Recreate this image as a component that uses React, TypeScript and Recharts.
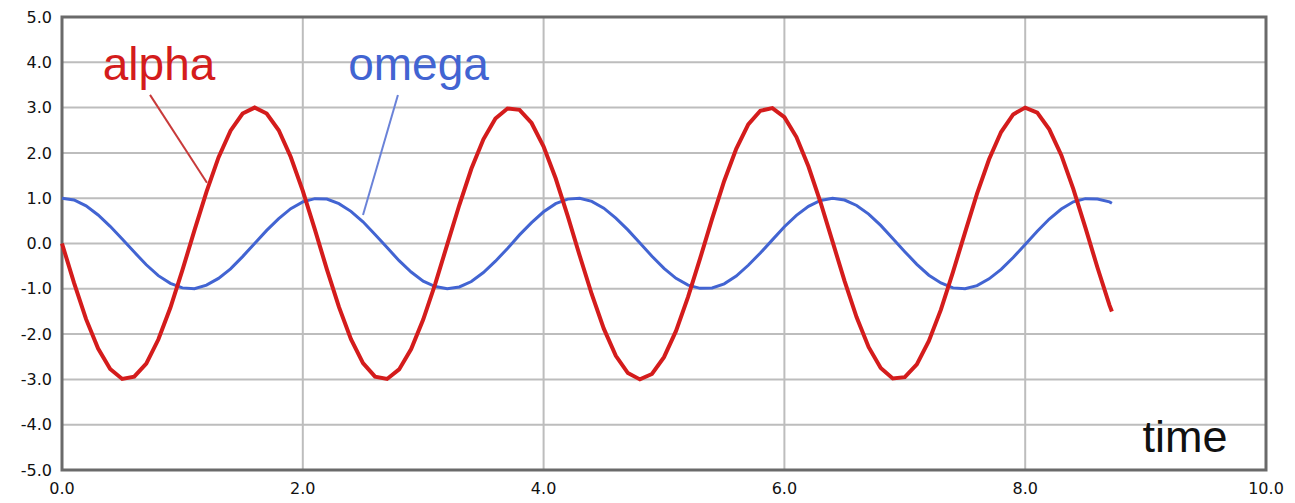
import React from "react";
import {
  LineChart,
  Line,
  XAxis,
  YAxis,
  CartesianGrid,
  ReferenceLine,
  ReferenceDot,
  ReferenceArea,
} from "recharts";

const times = [
  0.0, 0.1, 0.2, 0.3, 0.4, 0.5, 0.6, 0.7, 0.8, 0.9,
  1.0, 1.1, 1.2, 1.3, 1.4, 1.5, 1.6, 1.7, 1.8, 1.9,
  2.0, 2.1, 2.2, 2.3, 2.4, 2.5, 2.6, 2.7, 2.8, 2.9,
  3.0, 3.1, 3.2, 3.3, 3.4, 3.5, 3.6, 3.7, 3.8, 3.9,
  4.0, 4.1, 4.2, 4.3, 4.4, 4.5, 4.6, 4.7, 4.8, 4.9,
  5.0, 5.1, 5.2, 5.3, 5.4, 5.5, 5.6, 5.7, 5.8, 5.9,
  6.0, 6.1, 6.2, 6.3, 6.4, 6.5, 6.6, 6.7, 6.8, 6.9,
  7.0, 7.1, 7.2, 7.3, 7.4, 7.5, 7.6, 7.7, 7.8, 7.9,
  8.0, 8.1, 8.2, 8.3, 8.4, 8.5, 8.6, 8.7, 8.72,
];

const alphaValues = [
  0, -0.87, -1.67, -2.32, -2.77, -2.99, -2.94, -2.65, -2.12, -1.42,
  -0.59, 0.29, 1.14, 1.9, 2.49, 2.87, 3.0, 2.87, 2.5, 1.91,
  1.16, 0.31, -0.57, -1.4, -2.11, -2.64, -2.94, -2.99, -2.78, -2.33,
  -1.68, -0.89, -0.02, 0.85, 1.65, 2.3, 2.76, 2.98, 2.95, 2.66,
  2.14, 1.44, 0.61, -0.27, -1.12, -1.88, -2.48, -2.86, -3.0, -2.88,
  -2.51, -1.93, -1.18, -0.33, 0.55, 1.38, 2.09, 2.63, 2.93, 2.99,
  2.79, 2.35, 1.7, 0.91, 0.04, -0.83, -1.63, -2.29, -2.75, -2.98,
  -2.95, -2.67, -2.15, -1.46, -0.63, 0.24, 1.1, 1.86, 2.46, 2.85,
  3.0, 2.89, 2.52, 1.95, 1.2, 0.35, -0.53, -1.36, -1.5,
];

const omegaValues = [
  1.0, 0.96, 0.83, 0.63, 0.38, 0.1, -0.19, -0.47, -0.71, -0.88,
  -0.98, -1.0, -0.92, -0.77, -0.56, -0.29, 0.0, 0.29, 0.55, 0.77,
  0.92, 0.99, 0.98, 0.88, 0.71, 0.48, 0.2, -0.09, -0.38, -0.63,
  -0.83, -0.95, -1.0, -0.96, -0.84, -0.64, -0.39, -0.11, 0.19, 0.46,
  0.7, 0.88, 0.98, 1.0, 0.93, 0.78, 0.56, 0.3, 0.01, -0.28,
  -0.55, -0.77, -0.92, -0.99, -0.98, -0.89, -0.72, -0.48, -0.21, 0.08,
  0.37, 0.62, 0.82, 0.95, 1.0, 0.96, 0.84, 0.65, 0.4, 0.11,
  -0.18, -0.46, -0.7, -0.87, -0.98, -1.0, -0.93, -0.78, -0.57, -0.31,
  -0.02, 0.27, 0.54, 0.76, 0.92, 0.99, 0.98, 0.92, 0.89,
];

const xTicks = [0, 2, 4, 6, 8, 10];
const yTicks = [-5, -4, -3, -2, -1, 0, 1, 2, 3, 4, 5];

const data = times.map((t, i) => ({
  t,
  alpha: alphaValues[i],
  omega: omegaValues[i],
}));

const RED = "#d41c1c";
const BLUE = "#4264d2";

const makeLabel = (text: string, color: string, size: number) => (props: any) => {
  const vb = props.viewBox || {};
  const x = (vb.x || 0) + (vb.width || 0) / 2;
  const y = (vb.y || 0) + (vb.height || 0) / 2;
  return (
    <text
      x={x}
      y={y}
      textAnchor="middle"
      fill={color}
      fontSize={size}
      fontFamily="'Liberation Sans', Arial, sans-serif"
    >
      {text}
    </text>
  );
};

const tickStyle = {
  fontSize: 16,
  fill: "#111",
  fontFamily: "'DejaVu Sans', Verdana, sans-serif",
};

export default function App() {
  return (
    <div style={{ position: "absolute", left: 0, top: 0, background: "#fff" }}>
      <LineChart
        width={1295}
        height={503}
        data={data}
        margin={{ top: 17, right: 29, bottom: 0, left: 4 }}
      >
        <CartesianGrid stroke="#bdbdbd" strokeWidth={2} />
        <XAxis
          dataKey="t"
          type="number"
          domain={[0, 10]}
          ticks={xTicks}
          interval={0}
          tickFormatter={(v: number) => v.toFixed(1)}
          tick={tickStyle}
          tickLine={false}
          tickSize={0}
          tickMargin={13}
          axisLine={false}
          height={33}
        />
        <YAxis
          type="number"
          domain={[-5, 5]}
          ticks={yTicks}
          interval={0}
          tickFormatter={(v: number) => v.toFixed(1)}
          tick={tickStyle}
          tickLine={false}
          tickSize={0}
          tickMargin={10}
          axisLine={false}
          width={58}
        />
        <ReferenceArea
          x1={0}
          x2={10}
          y1={-5}
          y2={5}
          fill="none"
          fillOpacity={0}
          stroke="#6a6a6a"
          strokeWidth={3}
        />
        <ReferenceLine
          segment={[
            { x: 0.731, y: 3.28 },
            { x: 1.204, y: 1.34 },
          ]}
          stroke="#c83a3a"
          strokeWidth={2}
        />
        <ReferenceLine
          segment={[
            { x: 2.79, y: 3.28 },
            { x: 2.5, y: 0.63 },
          ]}
          stroke="#6a82d8"
          strokeWidth={2}
        />
        <Line
          type="linear"
          dataKey="omega"
          stroke={BLUE}
          strokeWidth={3}
          dot={false}
          isAnimationActive={false}
        />
        <Line
          type="linear"
          dataKey="alpha"
          stroke={RED}
          strokeWidth={4}
          dot={false}
          isAnimationActive={false}
        />
        <ReferenceDot
          x={0.806}
          y={3.61}
          r={1}
          fill="none"
          stroke="none"
          label={makeLabel("alpha", RED, 46)}
        />
        <ReferenceDot
          x={2.961}
          y={3.61}
          r={1}
          fill="none"
          stroke="none"
          label={makeLabel("omega", BLUE, 46)}
        />
        <ReferenceDot
          x={9.327}
          y={-4.6}
          r={1}
          fill="none"
          stroke="none"
          label={makeLabel("time", "#111", 45)}
        />
      </LineChart>
    </div>
  );
}
